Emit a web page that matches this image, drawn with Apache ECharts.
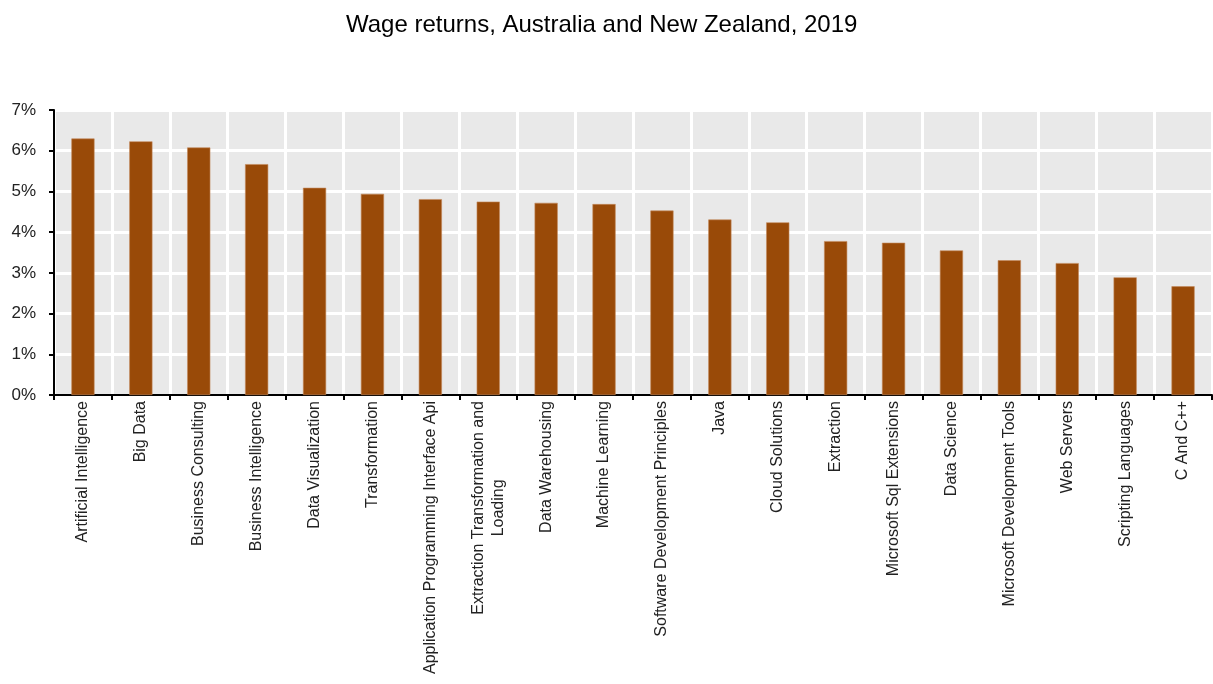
<!DOCTYPE html>
<html>
<head>
<meta charset="utf-8">
<script src="https://cdn.jsdelivr.net/npm/echarts@6/dist/echarts.min.js"></script>
<style>
  html, body { margin: 0; padding: 0; background: #fff; }
  #main { width: 1213px; height: 684px; }
</style>
</head>
<body>
<div id="main"></div>
<script>
// 技能类别
var categories = [
  'Artificial Intelligence', 'Big Data', 'Business Consulting', 'Business Intelligence',
  'Data Visualization', 'Transformation', 'Application Programming Interface Api',
  'Extraction Transformation and\nLoading', 'Data Warehousing', 'Machine Learning',
  'Software Development Principles', 'Java', 'Cloud Solutions', 'Extraction',
  'Microsoft Sql Extensions', 'Data Science', 'Microsoft Development Tools',
  'Web Servers', 'Scripting Languages', 'C And C++'
];
// 工资回报 (%)
var wageReturns = [
  6.30, 6.23, 6.08, 5.67, 5.09, 4.94, 4.81, 4.75, 4.72, 4.69,
  4.53, 4.31, 4.24, 3.78, 3.74, 3.55, 3.31, 3.24, 2.89, 2.67
];
// 纵轴刻度
var yTicks = [0, 1, 2, 3, 4, 5, 6, 7];

var fontNarrow = '"Liberation Sans Narrow", "Arial Narrow", "Liberation Sans", Arial, sans-serif';

var myChart = echarts.init(document.getElementById('main'));
myChart.setOption({
  animation: false,
  backgroundColor: '#fff',
  title: {
    text: 'Wage returns, Australia and New Zealand, 2019',
    left: 341,
    top: 8,
    textStyle: { fontFamily: fontNarrow, fontSize: 24, fontWeight: 'normal', color: '#000' }
  },
  grid: {
    left: 54, right: 1, top: 110, bottom: 289,
    show: true, backgroundColor: '#e9e9e9', borderWidth: 0
  },
  xAxis: {
    type: 'category',
    data: categories,
    axisLine: { lineStyle: { color: '#000', width: 2 } },
    axisTick: { show: true, length: 5, lineStyle: { color: '#000', width: 2 } },
    splitLine: { show: true, lineStyle: { color: '#fff', width: 3 } },
    axisLabel: {
      rotate: 90, interval: 0, margin: 6,
      fontFamily: fontNarrow, fontSize: 16, color: '#222',
      formatter: function (v) {
        return v.split('\n').map(function (s) { return '{c|' + s + '}'; }).join('\n');
      },
      rich: { c: { align: 'center', fontFamily: fontNarrow, fontSize: 16, color: '#222', lineHeight: 20 } }
    }
  },
  yAxis: {
    type: 'value',
    min: yTicks[0], max: yTicks[yTicks.length - 1], interval: 1,
    axisLine: { show: true, lineStyle: { color: '#000', width: 2 } },
    axisTick: { show: true, length: 5, lineStyle: { color: '#000', width: 2 } },
    splitLine: { show: true, lineStyle: { color: '#fff', width: 3 } },
    axisLabel: {
      margin: 18, fontFamily: fontNarrow, fontSize: 17, color: '#222',
      formatter: '{value}%'
    }
  },
  series: [{
    type: 'bar',
    data: wageReturns,
    barWidth: '40%',
    itemStyle: { color: '#994a08', borderColor: '#c48a5c', borderWidth: 0.6 }
  }]
});
</script>
</body>
</html>
